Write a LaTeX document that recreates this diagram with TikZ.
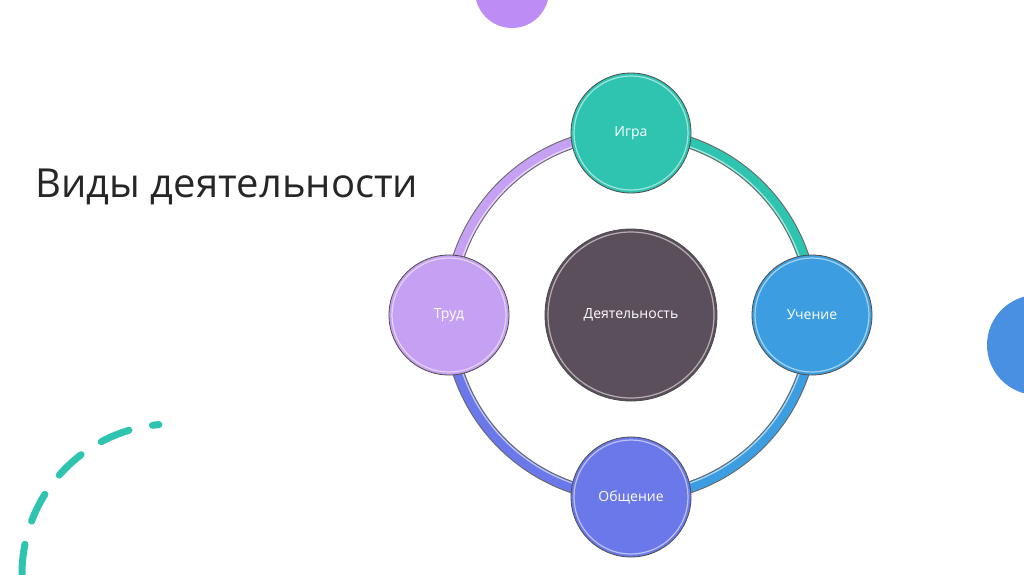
\documentclass[tikz,border=0pt]{standalone}
\usepackage{fontspec}
\setmainfont{Open Sans}
\definecolor{cteal}{RGB}{46,196,176}
\definecolor{cpurp}{RGB}{198,160,242}
\definecolor{cblue}{RGB}{60,158,224}
\definecolor{cvio}{RGB}{106,120,234}
\definecolor{cdark}{RGB}{92,79,92}
\definecolor{cdeco}{RGB}{190,140,245}
\definecolor{cdecob}{RGB}{74,144,226}
\begin{document}
\begin{tikzpicture}[x=1pt,y=-1pt,
  bub/.style={circle,minimum size=120pt,inner sep=0pt,draw=black!70,line width=0.8pt,text=white,font=\fontsize{14}{16}\selectfont},
  ringseg/.style={line width=12pt,draw=black!60},
  ringin/.style={line width=10pt}]
\useasboundingbox (0,0) rectangle (1024,574);
\fill[white] (0,0) rectangle (1024,574);
% decorations
\fill[cdeco] (512,-9) circle (37);
\fill[cdecob] (1037,345) circle (50);
\coordinate (dc) at (172,574);
\draw[line width=7pt,cteal,dash pattern=on 30pt off 24pt,line cap=round]
  ([shift={(180:150)}]dc) arc[start angle=180,end angle=265,radius=150];
% title
\node[anchor=west,font=\fontsize{40}{46}\selectfont,text=black!85] (title) at (32,187) {Виды деятельности};
% ring
\coordinate (C) at (631,315);
\foreach \a/\b/\c in {180/270/cpurp,270/360/cteal,0/90/cblue,90/180/cvio}{
  \draw[ringseg] ([shift={(\a:182)}]C) arc[start angle=\a,end angle=\b,radius=182];
  \draw[ringin,draw=\c] ([shift={(\a:182)}]C) arc[start angle=\a,end angle=\b,radius=182];
  \draw[line width=1.2pt,white,opacity=0.6] ([shift={(\a:178)}]C) arc[start angle=\a,end angle=\b,radius=178];
}
% nodes
\node[bub,fill=cdark,minimum size=172pt] (center) at (C) {Деятельность};
\node[bub,fill=cteal] (igra) at (631,133) {Игра};
\node[bub,fill=cblue] (uch) at (812,315) {Учение};
\node[bub,fill=cvio] (obsh) at (631,497) {Общение};
\node[bub,fill=cpurp] (trud) at (449,315) {Труд};
\foreach \n/\r in {igra/57,uch/57,obsh/57,trud/57,center/83}{
  \draw[white,opacity=0.55,line width=1.2pt] (\n.center) circle (\r);
}
\end{tikzpicture}
\end{document}
